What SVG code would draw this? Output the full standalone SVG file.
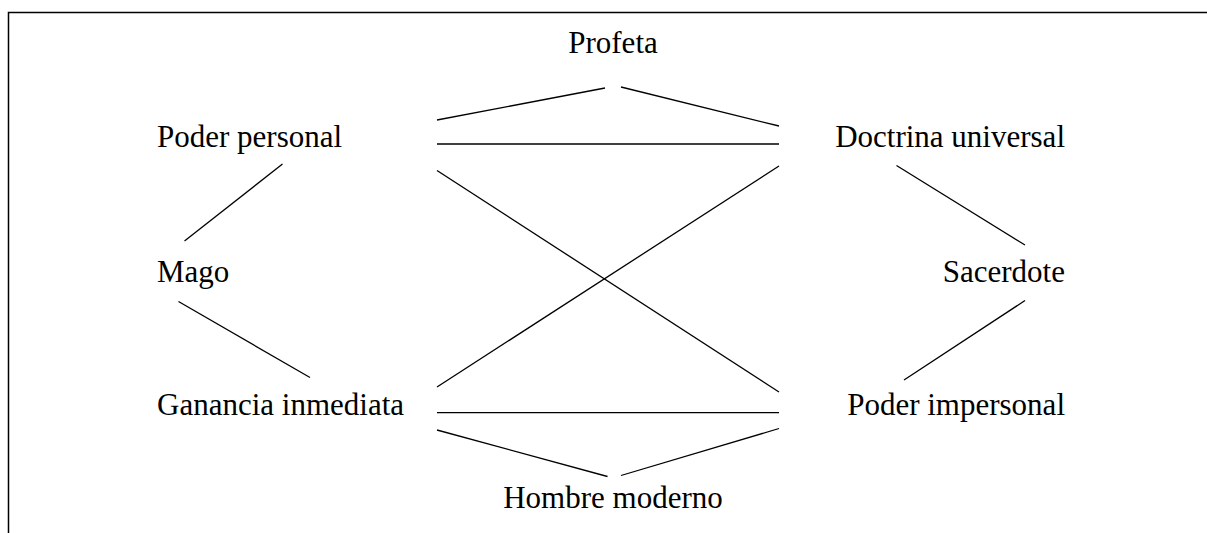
<svg xmlns="http://www.w3.org/2000/svg" width="1207" height="533" viewBox="0 0 1207 533">
<style>
.t{font-family:"Liberation Serif","Times New Roman",serif;font-size:31px;fill:#000}
.c line{stroke:#000;stroke-width:1.3}
</style>
<rect x="0" y="0" width="1207" height="533" fill="#fff"/>
<path d="M8.5 533 V12.5 H1207" fill="none" stroke="#000" stroke-width="1.5"/>
<g id="profeta"><text class="t" x="613" y="53" text-anchor="middle">Profeta</text></g>
<g id="poder-personal"><text class="t" x="157" y="147">Poder personal</text></g>
<g id="doctrina-universal"><text class="t" x="1065" y="147" text-anchor="end">Doctrina universal</text></g>
<g id="mago"><text class="t" x="157" y="282">Mago</text></g>
<g id="sacerdote"><text class="t" x="1065" y="282" text-anchor="end">Sacerdote</text></g>
<g id="ganancia-inmediata"><text class="t" x="157" y="415">Ganancia inmediata</text></g>
<g id="poder-impersonal"><text class="t" x="1065" y="415" text-anchor="end">Poder impersonal</text></g>
<g id="hombre-moderno"><text class="t" x="613" y="508" text-anchor="middle">Hombre moderno</text></g>
<g class="c" id="connectors">
<line x1="437" y1="120" x2="605" y2="88"/>
<line x1="621" y1="87" x2="779" y2="126"/>
<line x1="437" y1="144" x2="779" y2="144"/>
<line x1="437" y1="170.5" x2="779" y2="392"/>
<line x1="779" y1="166" x2="437" y2="387"/>
<line x1="437" y1="412.7" x2="779" y2="412.7"/>
<line x1="437" y1="430" x2="607.5" y2="476.5"/>
<line x1="621" y1="475.5" x2="779" y2="428.5"/>
<line x1="282.5" y1="164" x2="184.5" y2="241"/>
<line x1="178.5" y1="301.5" x2="310" y2="377.5"/>
<line x1="896.5" y1="165.5" x2="1025" y2="245"/>
<line x1="1025" y1="300.5" x2="904" y2="380"/>
</g>
</svg>
